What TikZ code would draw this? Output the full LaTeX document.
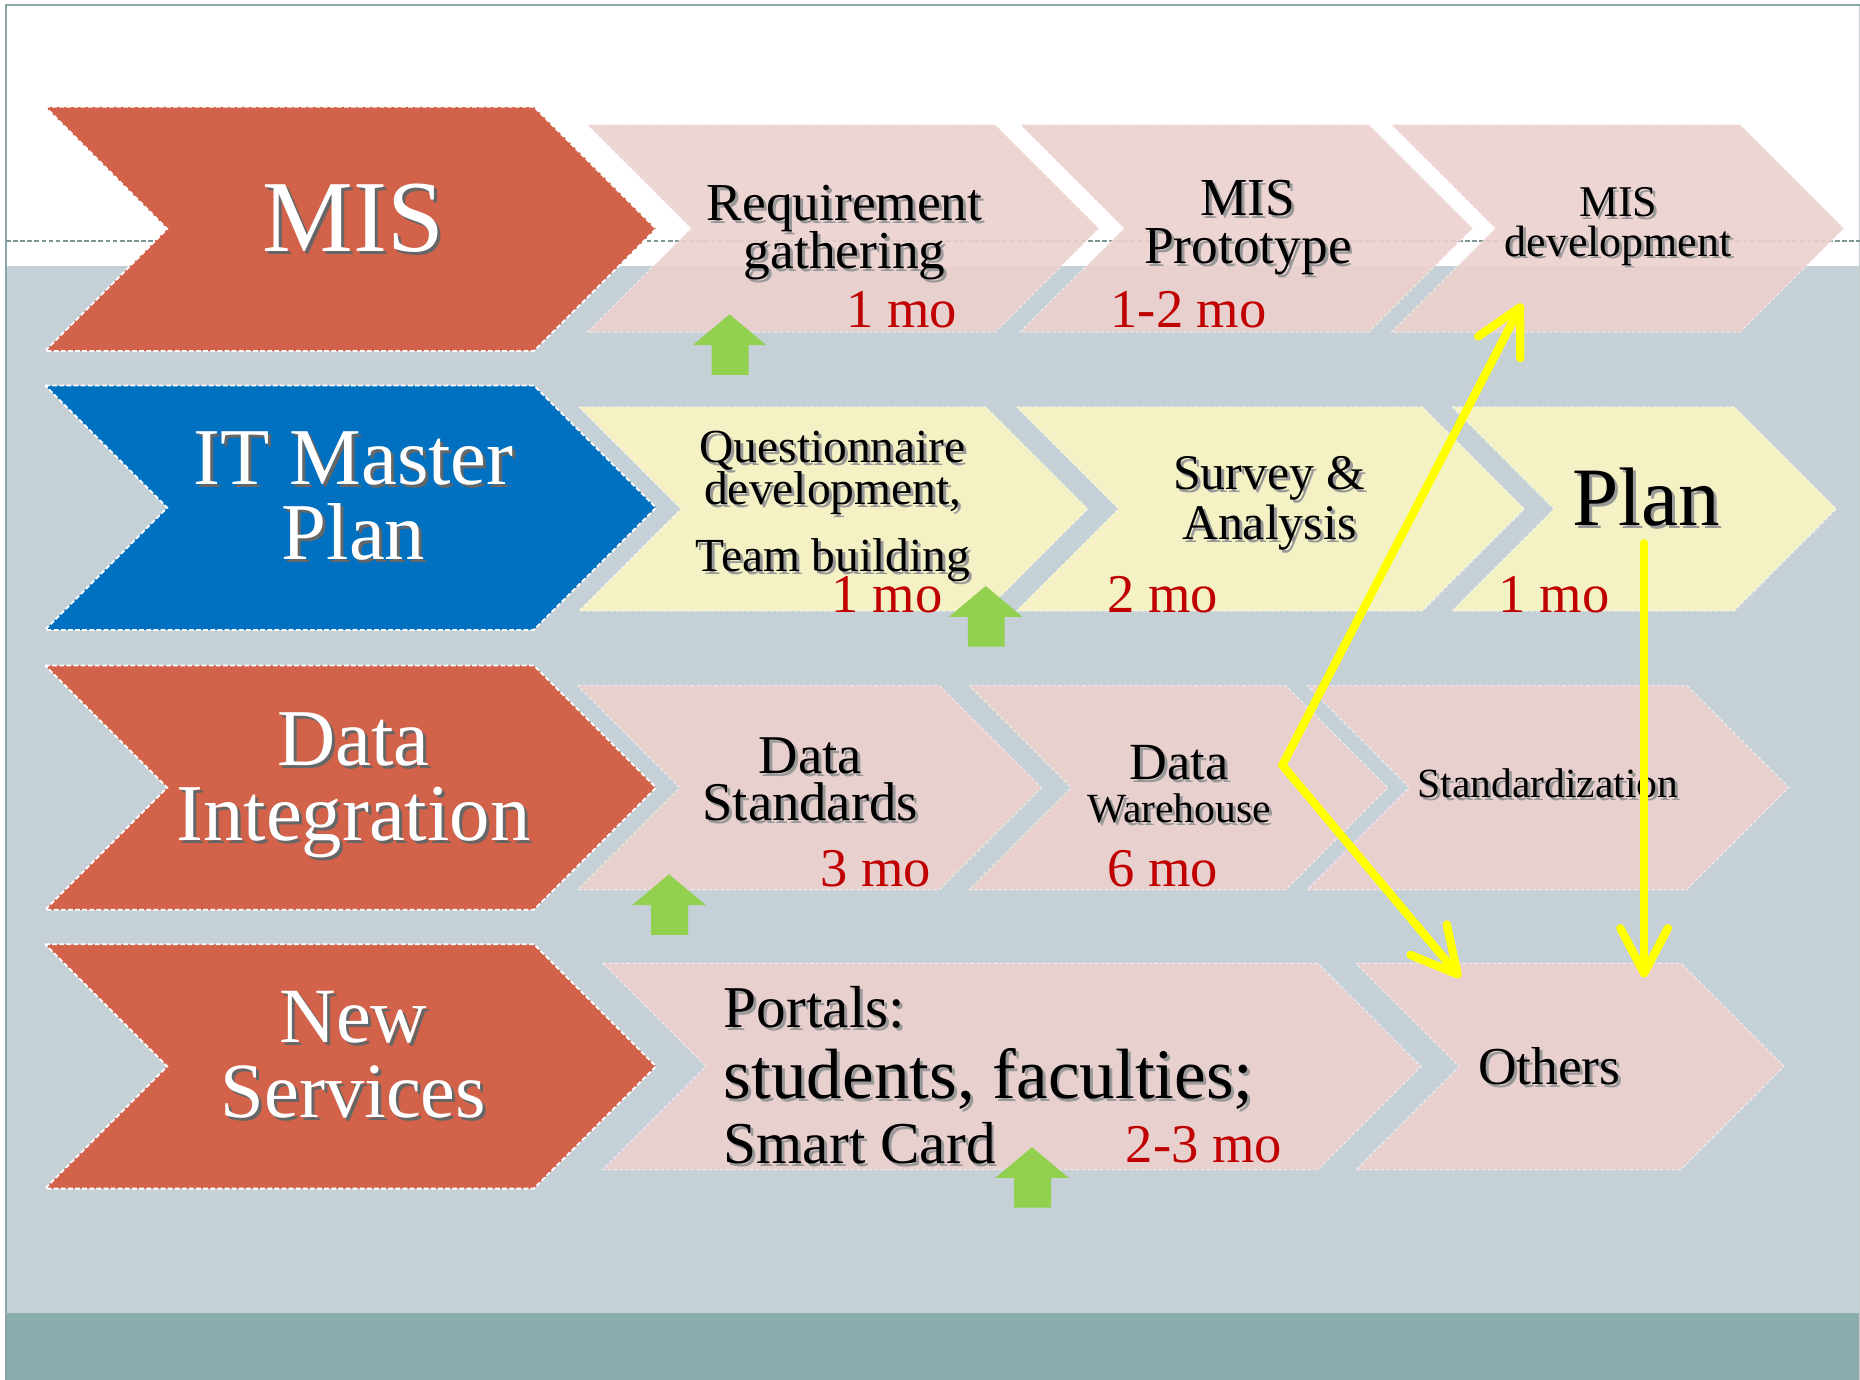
\documentclass[tikz,border=0pt]{standalone}
\usepackage{fontspec}
\setmainfont{Liberation Serif}
\usetikzlibrary{arrows.meta}
\definecolor{bgray}{RGB}{197,208,215}
\definecolor{band}{RGB}{138,172,173}
\definecolor{framec}{RGB}{138,165,166}
\definecolor{edgec}{RGB}{200,205,208}
\definecolor{chevred}{RGB}{210,98,74}
\definecolor{chevblue}{RGB}{0,112,192}
\definecolor{lpink}{RGB}{236,209,207}
\definecolor{lyellow}{RGB}{250,245,196}
\definecolor{mored}{RGB}{192,0,0}
\definecolor{agreen}{RGB}{146,208,80}
\definecolor{yel}{RGB}{255,255,0}
\definecolor{dashc}{RGB}{125,150,152}
\newcommand\shc{black!40}
\newcommand\shtxt[1]{\leavevmode\rlap{\kern2.5pt\raisebox{-2.5pt}[0pt][0pt]{\textcolor{\shc}{#1}}}#1}
% chevron: style, x, ytop, top width, height
\newcommand\chev[5]{\path[#1] (#2,#3) -- ++(#4,0) -- ++(#5/2,#5/2) -- ++(-#5/2,#5/2) -- ++(-#4,0) -- ++(#5/2,-#5/2) -- cycle;}
% green up arrow: centre x, tip y
\newcommand\garrow[2]{\fill[agreen] (#1,#2) -- ++(31,26) -- ++(-15,0) -- ++(0,25) -- ++(-31,0) -- ++(0,-25) -- ++(-16,0) -- cycle;}
\tikzset{
  bigchev/.style={fill=#1, draw=white, line width=1.5pt, dash pattern=on 4pt off 2pt},
  lchev/.style={fill=#1, fill opacity=0.9, draw=white, draw opacity=0.55, line width=1pt, dash pattern=on 3pt off 2pt},
  bigtxt/.style={text=white, align=center, inner sep=0pt, font={\fontsize{#1}{63}\selectfont\renewcommand\shc{black!60}}},
  blk/.style={text=black, align=center, inner sep=0pt},
  redtxt/.style={text=mored, inner sep=0pt, anchor=base, font=\fontsize{46}{50}\selectfont},
  yarrow/.style={draw=yel, line width=7pt, line cap=round, -{Straight Barb[length=38pt,width=40pt,round]}}
}
\begin{document}
\begin{tikzpicture}[x=1pt,y=-1pt]
\useasboundingbox (0,0) rectangle (1568,1163);
% background
\fill[white] (0,0) rectangle (1568,1163);
\fill[bgray] (5,224) rectangle (1568,1107);
\fill[band] (5,1107) rectangle (1568,1163);
\draw[edgec, line width=1pt] (1567.3,4) -- (1567.3,1163);
\draw[framec, line width=1.5pt] (5,1163) -- (5,4) -- (1568,4);
\draw[dashc, line width=1.2pt, dash pattern=on 4pt off 2pt] (5,203) -- (1568,203);
% big chevrons
\chev{bigchev=chevred}{38}{90}{412}{206}
\chev{bigchev=chevblue}{38}{325}{412}{206}
\chev{bigchev=chevred}{38}{561}{412}{206}
\chev{bigchev=chevred}{38}{796}{412}{206}
% light chevrons row 1
\chev{lchev=lpink}{495}{105}{344}{175}
\chev{lchev=lpink}{860}{105}{294}{175}
\chev{lchev=lpink}{1173}{105}{294}{175}
% row 2
\chev{lchev=lyellow}{488}{343}{343}{172}
\chev{lchev=lyellow}{857}{343}{342}{172}
\chev{lchev=lyellow}{1224}{343}{238}{172}
% row 3
\chev{lchev=lpink}{487}{578}{305}{172}
\chev{lchev=lpink}{817}{578}{267}{172}
\chev{lchev=lpink}{1102}{578}{320}{172}
% row 4
\chev{lchev=lpink}{508}{812}{603}{174}
\chev{lchev=lpink}{1143}{812}{274}{174}
% green arrows
\garrow{615}{265}
\garrow{831}{494}
\garrow{564}{737}
\garrow{870}{967}
% row labels
\node[bigtxt=86] (mis) at (298,184) {\shtxt{MIS}};
\node[bigtxt=68] (itmp) at (298,418) {\shtxt{IT Master}\\\shtxt{Plan}};
\node[bigtxt=68] (dint) at (298,662) {\shtxt{Data}\\\shtxt{Integration}};
\node[bigtxt=66] (nsrv) at (298,889) {\shtxt{New}\\\shtxt{Services}};
% row 1 texts
\node[blk, font=\fontsize{45}{41}\selectfont] (req) at (712,196) {\shtxt{Requirement}\\\shtxt{gathering}};
\node[redtxt] (req-t) at (760,276) {1 mo};
\node[blk, font=\fontsize{45}{40}\selectfont] (proto) at (1052,192) {\shtxt{MIS}\\\shtxt{Prototype}};
\node[redtxt] (proto-t) at (1002,276) {1-2 mo};
\node[blk, font=\fontsize{37}{33}\selectfont] (dev) at (1364,191) {\shtxt{MIS}\\\shtxt{development}};
% row 2 texts
\node[blk, font=\fontsize{40}{34}\selectfont] (quest) at (702,427) {\shtxt{Questionnaire}\\\shtxt{development,}\\[20pt]\shtxt{Team building}};
\node[redtxt] (quest-t) at (748,516) {1 mo};
\node[blk, font=\fontsize{42}{42}\selectfont] (surv) at (1070,424) {\shtxt{Survey \&}\\\shtxt{Analysis}};
\node[redtxt] (surv-t) at (980,516) {2 mo};
\node[blk, anchor=base, font=\fontsize{70}{70}\selectfont] (plan) at (1388,443) {\shtxt{Plan}};
\node[redtxt] (plan-t) at (1310,516) {1 mo};
% row 3 texts
\node[blk, font=\fontsize{46}{40}\selectfont] (dstd) at (683,657) {\shtxt{Data}\\\shtxt{Standards}};
\node[redtxt] (dstd-t) at (738,747) {3 mo};
\node[blk, anchor=base, font=\fontsize{44}{44}\selectfont] (dwh1) at (994,657) {\shtxt{Data}};
\node[blk, anchor=base, font=\fontsize{35}{35}\selectfont] (dwh2) at (994,693) {\shtxt{Warehouse}};
\node[redtxt] (dwh-t) at (980,747) {6 mo};
\node[blk, anchor=base, font=\fontsize{35}{35}\selectfont] (stdz) at (1305,672) {\shtxt{Standardization}};
% row 4 texts
\node[blk, anchor=base west, font=\fontsize{50}{50}\selectfont] (port1) at (610,866) {\shtxt{Portals:}};
\node[blk, anchor=base west, font=\fontsize{60}{60}\selectfont] (port2) at (610,926) {\shtxt{students, faculties;}};
\node[blk, anchor=base west, font=\fontsize{50}{50}\selectfont] (port3) at (610,981) {\shtxt{Smart Card}};
\node[redtxt] (port-t) at (1015,980) {2-3 mo};
\node[blk, anchor=base, font=\fontsize{45}{45}\selectfont] (oth) at (1306,914) {\shtxt{Others}};
% yellow arrows
\coordinate (yv) at (1081,645);
\coordinate (yup) at (1283,256);
\coordinate (ydn) at (1231,824);
\coordinate (ytop) at (1386,458);
\coordinate (ybot) at (1386,824);
\draw[yarrow] (yv) -- (yup);
\draw[yarrow] (yv) -- (ydn);
\draw[yarrow] (ytop) -- (ybot);
\end{tikzpicture}
\end{document}
